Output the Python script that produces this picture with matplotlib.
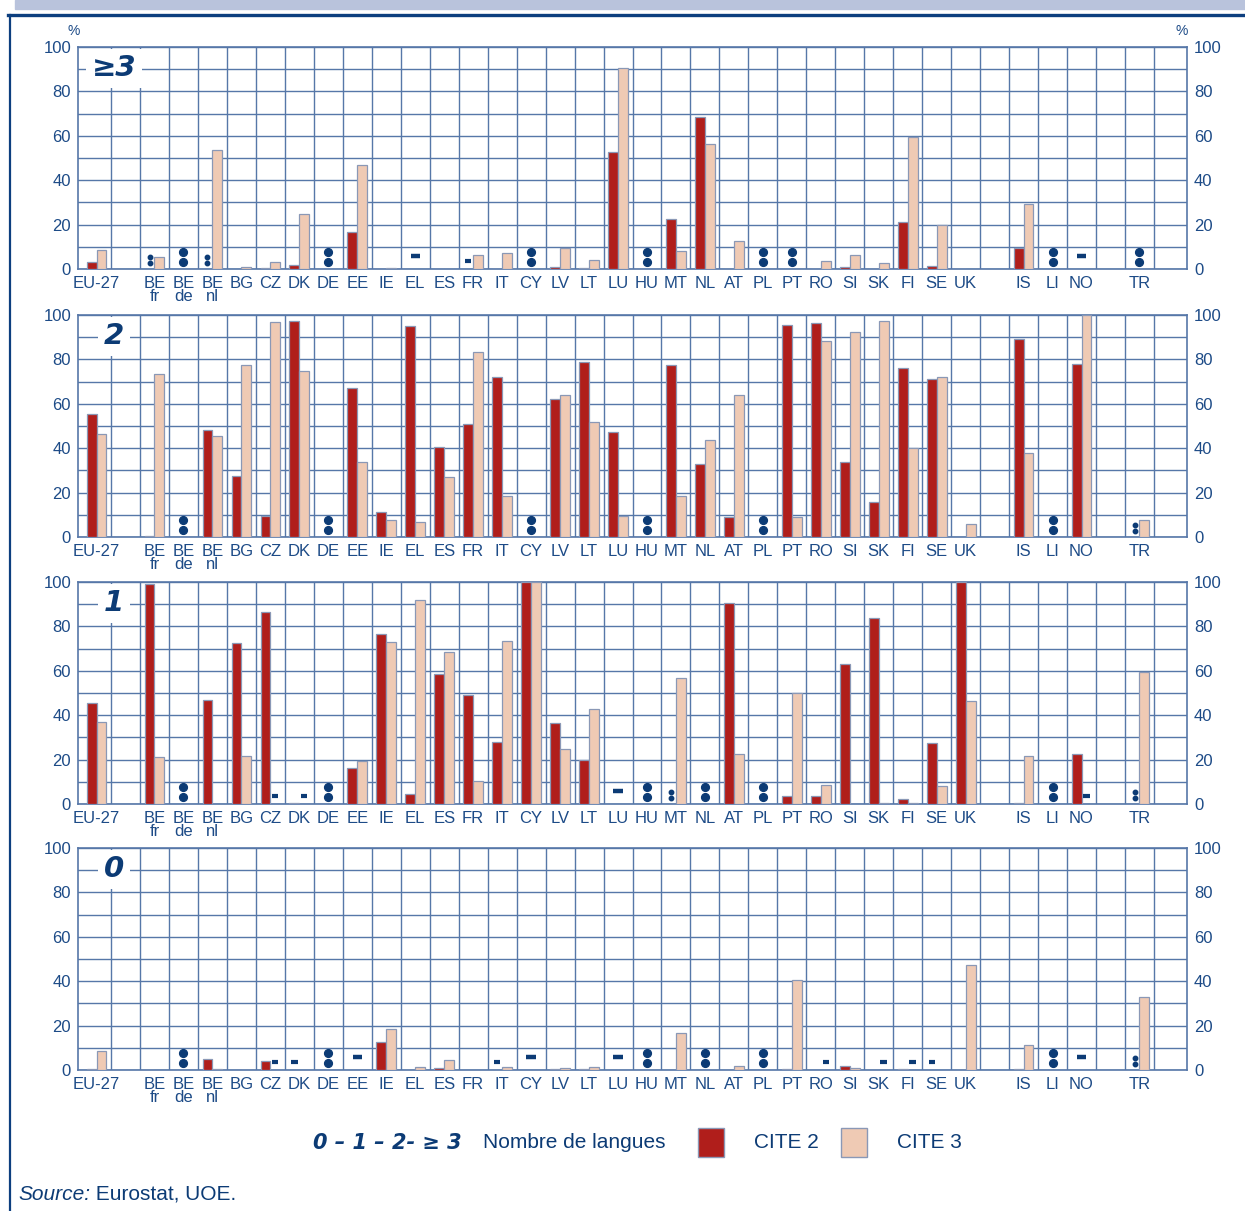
import numpy as np
import matplotlib.pyplot as plt
from matplotlib.lines import Line2D
from matplotlib.patches import Rectangle

# -------------------------------------------------------------------
# DATA (% of pupils by number of foreign languages learnt)
# ':' = not available, '-' = not applicable
# -------------------------------------------------------------------
NA = ':'
Z = '-'

eu_total = ["EU-27"]
eu_members = ["BE\nfr", "BE\nde", "BE\nnl", "BG", "CZ", "DK", "DE", "EE", "IE", "EL",
              "ES", "FR", "IT", "CY", "LV", "LT", "LU", "HU", "MT", "NL", "AT",
              "PL", "PT", "RO", "SI", "SK", "FI", "SE", "UK"]
efta = ["IS", "LI", "NO"]
candidates = ["TR"]

panel_labels = ["≥3", "2", "1", "0"]

ge3_cite2 = [3, NA, NA, NA, 0, 0.5, 2, NA, 16.5, 0.2, Z, 0.2, Z, 0.2, NA, 0.8, 0.5,
             52.5, NA, 22.5, 68.5, 0.2, NA, NA, 0.2, 0.8, 0.2, 21, 1.5, 0.2,
             9.5, NA, Z, NA]
ge3_cite3 = [8.5, 5.5, NA, 53.5, 1, 3, 25, NA, 47, 0.5, Z, 0.2, 6.5, 7, NA, 9.5, 4,
             90.5, NA, 8, 56.5, 12.5, NA, NA, 3.5, 6.5, 2.5, 59.5, 20, 0,
             29.5, NA, Z, NA]

two_cite2 = [55.3, 0.6, NA, 48, 27.6, 9.5, 97.3, NA, 67.2, 11.3, 95.2, 40.5, 50.8, 72.1,
             NA, 62.2, 78.9, 47.3, NA, 77.4, 32.7, 9.2, NA, 95.6, 96.2, 34, 15.7, 76.2,
             71.1, 0, 89.2, NA, 77.9, NA]
two_cite3 = [46.5, 73.5, NA, 45.6, 77.4, 96.8, 74.7, NA, 34, 7.7, 6.6, 27.1, 83.4, 18.4,
             NA, 63.9, 52, 9.3, NA, 18.4, 43.8, 63.9, NA, 9.2, 88.3, 92.5, 97.4, 40.2,
             72, 5.9, 37.8, NA, 100, 7.7]

one_cite2 = [45.7, 99.2, NA, 47, 72.5, 86.5, 0.5, NA, 16.2, 76.5, 4.7, 58.5, 49.2, 28.1,
             100, 36.5, 20, Z, NA, NA, NA, 90.5, NA, 3.8, 3.8, 63.2, 84, 2.3, 27.7, 99.8,
             0.5, NA, 22.6, NA]
one_cite3 = [37.1, 21, NA, 0, 21.5, Z, Z, NA, 19.5, 72.9, 91.9, 68.4, 10.4, 73.4,
             100, 24.8, 42.6, Z, NA, 56.7, NA, 22.6, NA, 50, 8.4, 0, 0.5, 0.4, 8, 46.3,
             21.5, NA, Z, 59.4]

zero_cite2 = [0.5, 0.2, NA, 5, 0, 3.9, Z, NA, Z, 12.5, 0.2, 1, 0, Z, Z, 0.5, 0.5, Z,
              NA, 0, NA, 0.2, NA, 0.6, 0, 1.7, 0.2, 0.5, Z, 0.2, 0.6, NA, Z, NA]
zero_cite3 = [8.7, 0, NA, 0.5, 0.2, Z, 0, NA, Z, 18.5, 1.2, 4.4, 0, 1.2, Z, 1, 1.5, Z,
              NA, 16.8, NA, 1.6, NA, 40.6, Z, 1, Z, Z, 0, 47.5, 11.4, NA, Z, 33]

panels = [(ge3_cite2, ge3_cite3), (two_cite2, two_cite3),
          (one_cite2, one_cite3), (zero_cite2, zero_cite3)]

# -------------------------------------------------------------------
# STYLE
# -------------------------------------------------------------------
W, H = 1245, 1211
RED = "#b01e1b"
PEACH = "#efcab4"
EDGE = "#8a98b6"
GRID = "#5677a8"
NAVY = "#0c3b75"
TXT = "#1d4b87"
FONT = ["Liberation Sans", "DejaVu Sans"]
BAR_W = 0.34

plt.rcParams["font.family"] = FONT

# category positions: one empty slot between groups
groups = [eu_total, eu_members, efta, candidates]
labels, pos = [], []
p = 0
for g in groups:
    for c in g:
        labels.append(c)
        pos.append(p)
        p += 1
    p += 1
n_slots = p - 1
pos = np.array(pos, dtype=float)


def fx(x):
    return x / W


def fy(y):
    return 1 - y / H


fig = plt.figure(figsize=(W / 100, H / 100), dpi=100)

# header band + frame
fig.patches.append(Rectangle((fx(15), fy(9)), 1, 9 / H, transform=fig.transFigure,
                             color="#b9c3dc", zorder=0))
fig.add_artist(Line2D([fx(8), 1], [fy(15), fy(15)], color="#0d3f7f", lw=2.4))
fig.add_artist(Line2D([fx(10), fx(10)], [fy(15), 0], color="#0d3f7f", lw=1.6))

ax_left = fx(78)
ax_w = fx(1187) - ax_left
bottoms_px = [269, 537, 804, 1070]
ax_h = 222 / H


def draw_symbol(ax, x, kind, big):
    if kind == NA:
        if big:
            ax.plot([x, x], [7.5, 3.0], "o", ms=5.6, color=NAVY, mec=NAVY, zorder=5,
                    clip_on=False)
        else:
            ax.plot([x, x], [5.3, 2.6], "o", ms=3.2, color=NAVY, mec=NAVY, zorder=5,
                    clip_on=False)
    else:
        if big:
            ax.plot([x - 0.16, x + 0.16], [6, 6], color=NAVY, lw=3.2,
                    solid_capstyle="butt", zorder=5)
        else:
            ax.plot([x - 0.11, x + 0.11], [3.7, 3.7], color=NAVY, lw=3.0,
                    solid_capstyle="butt", zorder=5)


for i, (c2, c3) in enumerate(panels):
    ax = fig.add_axes([ax_left, fy(bottoms_px[i]), ax_w, ax_h])
    ax.set_xlim(-0.64, n_slots + 0.64)
    ax.set_ylim(0, 100)

    for x, v2, v3 in zip(pos, c2, c3):
        if v2 == v3 and v2 in (NA, Z):
            draw_symbol(ax, x, v2, True)
            continue
        for v, off, col in ((v2, -BAR_W / 2, RED), (v3, BAR_W / 2, PEACH)):
            if v in (NA, Z):
                draw_symbol(ax, x + off, v, False)
            elif v > 0:
                ax.bar(x + off, v, width=BAR_W, color=col, edgecolor=EDGE,
                       linewidth=0.9, zorder=3)

    # grid
    ax.set_xticks(pos)
    ax.set_xticklabels(labels, linespacing=0.8, va="top")
    ax.set_xticks(np.arange(0.5, n_slots, 1.0), minor=True)
    ax.set_yticks(np.arange(0, 101, 20))
    ax.set_yticks(np.arange(0, 101, 10), minor=True)
    ax.grid(True, which="minor", color=GRID, lw=1.0)
    ax.grid(True, which="major", axis="y", color=GRID, lw=1.0)
    ax.set_axisbelow(True)
    for s in ax.spines.values():
        s.set_color(GRID)
        s.set_linewidth(1.2)

    ax.tick_params(axis="both", which="both", length=0, colors=TXT, labelsize=12)
    ax.tick_params(axis="x", pad=5)
    ax.tick_params(axis="y", pad=5, labelleft=True, labelright=True)

    ax.text(0.6, 90.5, panel_labels[i], fontsize=21, fontweight="bold", style="italic",
            color=NAVY, ha="center", va="center", family=["DejaVu Sans"], zorder=6,
            bbox=dict(facecolor="white", edgecolor="none", pad=4))

    if i == 0:
        ax.text(-0.8, 104, "%", fontsize=10, color=TXT, ha="center", va="bottom",
                clip_on=False)
        ax.text(n_slots + 0.45, 104, "%", fontsize=10, color=TXT, ha="center",
                va="bottom", clip_on=False)

# legend
ly = fy(1143)
fig.text(fx(313), ly, "0 – 1 – 2- ≥ 3", fontsize=15, fontweight="bold", style="italic",
         color=NAVY, ha="left", va="center", family=["DejaVu Sans"])
fig.text(fx(483), ly, "Nombre de langues", fontsize=15, color=NAVY, ha="left",
         va="center")
fig.patches.append(Rectangle((fx(698), fy(1157)), 26 / W, 29 / H, transform=fig.transFigure,
                             facecolor=RED, edgecolor=EDGE, lw=1))
fig.text(fx(754), ly, "CITE 2", fontsize=15, color=NAVY, ha="left", va="center")
fig.patches.append(Rectangle((fx(841), fy(1157)), 26 / W, 29 / H, transform=fig.transFigure,
                             facecolor=PEACH, edgecolor=EDGE, lw=1))
fig.text(fx(897), ly, "CITE 3", fontsize=15, color=NAVY, ha="left", va="center")

src = fig.text(fx(18), fy(1194), "Source:", fontsize=15, style="italic", color=NAVY,
               ha="left", va="center")
fig.add_artist(plt.Annotation(" Eurostat, UOE.", xy=(1, 0.5), xycoords=src,
                              fontsize=15, color=NAVY, ha="left", va="center"))

fig.savefig("out.png", dpi=100)
